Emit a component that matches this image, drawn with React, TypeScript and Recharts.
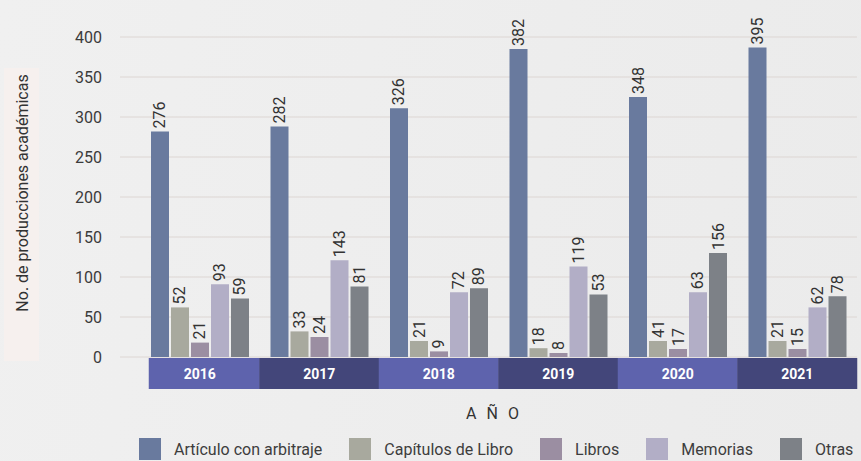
import React from 'react';
import { BarChart, Bar, XAxis, YAxis, CartesianGrid, LabelList } from 'recharts';

const years = ['2016', '2017', '2018', '2019', '2020', '2021'];

// bar heights as drawn in the picture
const articulos = [282, 288, 311, 385, 325, 387];
const capitulos = [62, 32, 20, 11, 20, 20];
const libros = [18, 25, 7, 5, 10, 10];
const memorias = [91, 121, 81, 113, 81, 62];
const otras = [73, 88, 86, 78, 130, 76];

// numbers printed above the bars
const articulosLbl = [276, 282, 326, 382, 348, 395];
const capitulosLbl = [52, 33, 21, 18, 41, 21];
const librosLbl = [21, 24, 9, 8, 17, 15];
const memoriasLbl = [93, 143, 72, 119, 63, 62];
const otrasLbl = [59, 81, 89, 53, 156, 78];

const yTicks = [0, 50, 100, 150, 200, 250, 300, 350, 400];

const series = [
  { key: 'articulos', name: 'Artículo con arbitraje', color: '#697a9e', labels: articulosLbl },
  { key: 'capitulos', name: 'Capítulos de Libro', color: '#a8a99e', labels: capitulosLbl },
  { key: 'libros', name: 'Libros', color: '#9b8ea2', labels: librosLbl },
  { key: 'memorias', name: 'Memorias', color: '#b2aec6', labels: memoriasLbl },
  { key: 'otras', name: 'Otras', color: '#7d8187', labels: otrasLbl },
];

const data = years.map((year, i) => ({
  year,
  articulos: articulos[i],
  capitulos: capitulos[i],
  libros: libros[i],
  memorias: memorias[i],
  otras: otras[i],
}));

const FONT = 'Roboto, "Noto Sans", sans-serif';

const makeLabel = (texts: number[]) => (props: any) => {
  const { x, y, width, index } = props;
  const cx = Number(x) + Number(width) / 2;
  const ty = Number(y) - 3;
  return (
    <text
      x={cx}
      y={ty}
      transform={`rotate(-90 ${cx} ${ty})`}
      textAnchor="start"
      dominantBaseline="central"
      fontSize={16}
      fontFamily={FONT}
      fill="#333"
    >
      {texts[index]}
    </text>
  );
};

const YearTick = (props: any) => {
  const { x, y, index, payload } = props;
  const w = 120;
  const trim = index === 0 ? 9 : 0; // first band starts a bit later
  return (
    <g>
      <rect
        x={x - w / 2 + trim}
        y={y + 1}
        width={w - trim}
        height={31}
        fill={index % 2 === 0 ? '#5e63ad' : '#43467a'}
      />
      <text
        x={x}
        y={y + 17}
        textAnchor="middle"
        dominantBaseline="central"
        fill="#fff"
        fontWeight="bold"
        fontSize={14}
        fontFamily={FONT}
      >
        {payload.value}
      </text>
    </g>
  );
};

export default function App() {
  return (
    <div
      style={{
        position: 'fixed',
        top: 0,
        left: 0,
        width: 861,
        height: 461,
        background: 'linear-gradient(100deg, #f0f0f0 0%, #ebebeb 100%)',
        fontFamily: FONT,
        overflow: 'hidden',
      }}
    >
      <div
        style={{
          position: 'absolute',
          left: 4,
          top: 68,
          width: 35,
          height: 293,
          background: '#f6f0ee',
        }}
      />
      <div
        style={{
          position: 'absolute',
          left: 22,
          top: 193,
          transform: 'translate(-50%, -50%) rotate(-90deg)',
          whiteSpace: 'nowrap',
          fontSize: 16,
          color: '#333',
        }}
      >
        No. de producciones académicas
      </div>

      <BarChart
        width={861}
        height={400}
        data={data}
        margin={{ top: 37, right: 4, bottom: 8, left: 40 }}
        barGap={2}
        style={{ position: 'absolute', left: 0, top: 0 }}
      >
        <CartesianGrid vertical={false} stroke="#ddd6d3" />
        <YAxis
          width={80}
          domain={[0, 400]}
          ticks={yTicks}
          axisLine={false}
          tickLine={false}
          tickSize={0}
          tickMargin={18}
          tick={{ fontSize: 16, fill: '#3b3b3b', fontFamily: FONT }}
        />
        <XAxis
          dataKey="year"
          height={35}
          padding={{ left: 20, right: 0 }}
          axisLine={false}
          tickLine={false}
          tickSize={0}
          tickMargin={0}
          interval={0}
          tick={<YearTick />}
        />
        {series.map((s) => (
          <Bar key={s.key} dataKey={s.key} name={s.name} fill={s.color} barSize={18} isAnimationActive={false}>
            <LabelList dataKey={s.key} content={makeLabel(s.labels)} />
          </Bar>
        ))}
      </BarChart>

      <div
        style={{
          position: 'absolute',
          left: 494,
          top: 404,
          transform: 'translateX(-50%)',
          fontSize: 16,
          letterSpacing: 3,
          color: '#333',
          whiteSpace: 'nowrap',
        }}
      >
        A Ñ O
      </div>

      <div
        style={{
          position: 'absolute',
          left: 139,
          top: 438,
          display: 'flex',
          alignItems: 'center',
          fontSize: 16,
          color: '#3d3d3d',
          whiteSpace: 'nowrap',
        }}
      >
        {series.map((s) => (
          <div key={s.key} style={{ display: 'flex', alignItems: 'center', marginRight: 27 }}>
            <span style={{ width: 22, height: 22, background: s.color, display: 'inline-block', marginRight: 13 }} />
            <span>{s.name}</span>
          </div>
        ))}
      </div>
    </div>
  );
}
